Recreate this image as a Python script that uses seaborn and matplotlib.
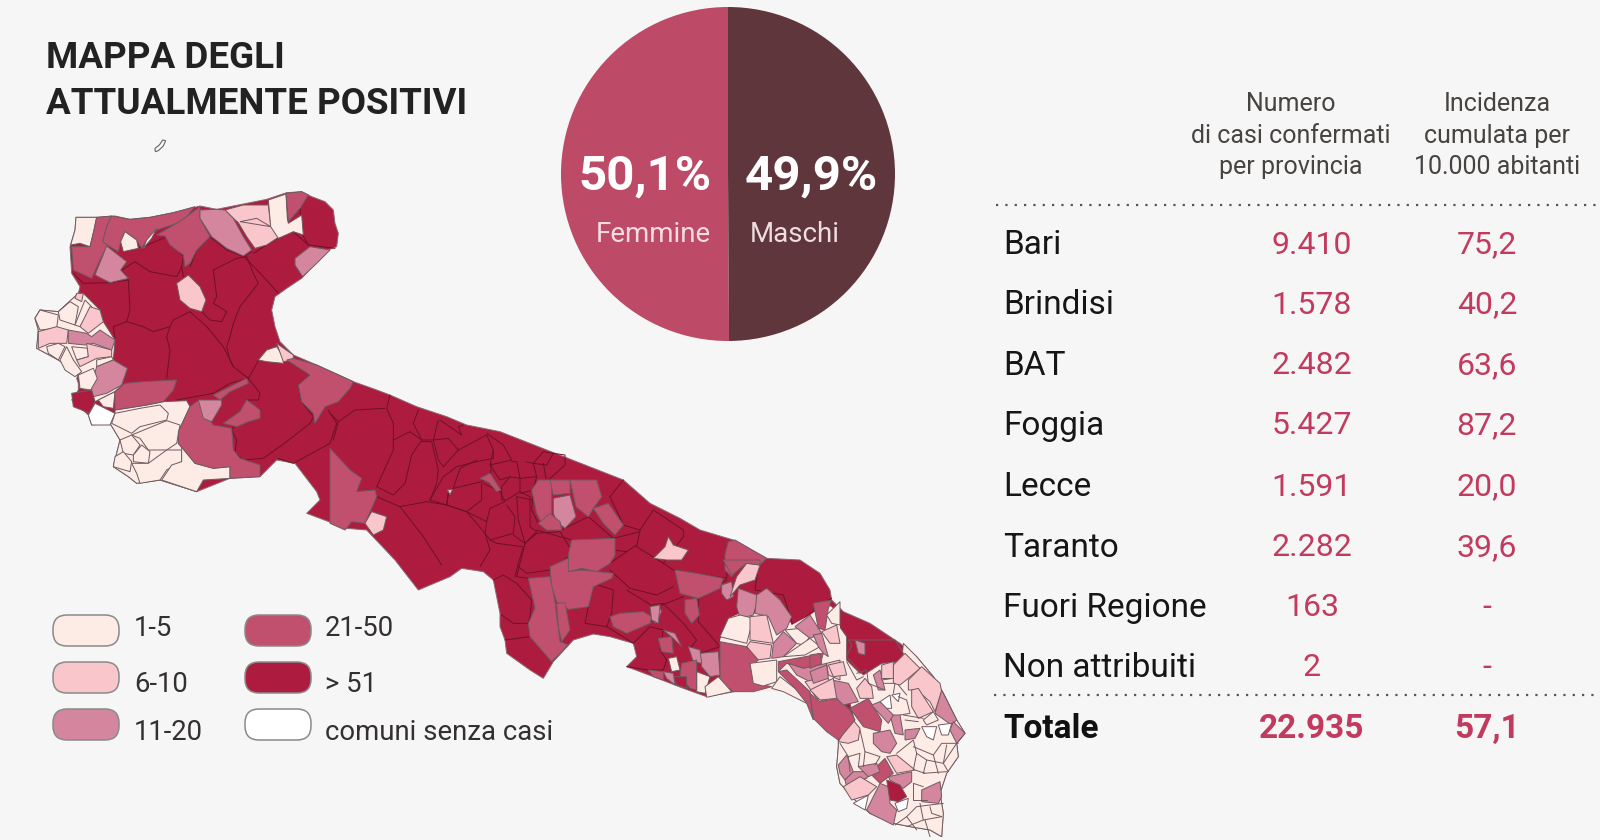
import matplotlib
matplotlib.use("Agg")
import matplotlib.pyplot as plt
import seaborn as sns
from matplotlib.patches import FancyBboxPatch, Polygon

# table data
provinces = ["Bari", "Brindisi", "BAT", "Foggia", "Lecce", "Taranto", "Fuori Regione", "Non attribuiti"]
cases = ["9.410", "1.578", "2.482", "5.427", "1.591", "2.282", "163", "2"]
incidence = ["75,2", "40,2", "63,6", "87,2", "20,0", "39,6", "-", "-"]
total_row = ["Totale", "22.935", "57,1"]
gender_labels = ["Femmine", "Maschi"]
gender_values = [50.1, 49.9]
legend_labels = ["1-5", "6-10", "11-20", "21-50", "> 51", "comuni senza casi"]
class_names = ["a", "b", "c", "d", "e", "w"]
class_colors = ["#FDEBE5", "#F8C6CB", "#D5869F", "#C1506F", "#AD1C3F", "#FFFFFF"]

# region outline (north part, then south part)
coast_north = [(228,262),(290,262),(345,258),(390,268),(450,262),(520,248),(600,228),(650,238),(730,222),(800,208),(860,188),(905,185),(935,200),(975,215),(1000,240),(1005,280),(1015,310),(1010,350),(985,360),(950,395),(905,445),(860,475),(825,500),(815,540),(825,590),(840,635),(880,675),(950,705),(1060,755),(1125,778),(1170,795),(1250,830),(1340,860),(1400,885),(1500,905)]
coast_south = [(520,0),(600,70),(690,115),(750,150),(850,180),(950,235),(1050,240),(1110,280),(1140,330),(1145,360),(1180,395),(1260,430),(1350,490),(1400,530),(1450,590),(1480,640),(1520,720),(1545,760),(1520,790),(1525,830),(1490,880),(1470,940),(1480,1000),(1475,1070),(1440,1050),(1380,1040),(1330,1030),(1260,1000),(1215,960),(1170,910),(1160,860),(1165,800),(1165,770),(1120,720),(1090,690),(1085,670),(1040,640),(980,625),(880,630),(770,650),(700,625),(610,590),(530,560),(560,530),(550,490),(480,470),(430,462),(370,480),(310,545),(280,595),(240,570),(170,520),(165,480),(150,440),(150,400),(130,300),(100,275),(35,265),(0,290),(-95,330),(-165,240)]
coast_west = [(1100,1200),(1040,1195),(920,1150),(960,1110),(950,1085),(885,1000),(830,990),(780,1040),(690,1045),(590,1085),(480,1050),(410,1060),(385,1040),(340,1010),(360,930),(330,880),(275,885),(265,855),(215,810),(235,780),(235,760),(230,745),(240,720),(175,690),(110,655),(115,600),(105,565),(120,540),(175,545),(235,490),(240,470),(215,430),(210,350),(225,300)]
salento_base = [(1165,435),(1190,470),(1190,540),(1230,580),(1300,545),(1355,545),(1360,490),(1400,530),(1450,590),(1480,640),(1520,720),(1545,760),(1520,790),(1525,830),(1490,880),(1470,940),(1480,1000),(1475,1070),(1440,1050),(1380,1040),(1330,1030),(1260,1000),(1215,960),(1170,910),(1160,860),(1165,800),(1165,770),(1210,710),(1200,670),(1150,600),(1140,520),(1130,480),(1085,460),(1130,430)]
tremiti = [(465,55),(478,45),(488,30),(497,32),(490,48),(475,62),(466,65)]

# municipalities, north part
north_shapes = [
    ("a", [(175,545),(235,490),(250,490),(300,540),(310,575),(345,630),(340,690),(382,715),(365,765),(345,785),(295,810),(285,815),(272,780),(240,775),(235,735),(175,690),(110,655),(115,600),(105,565),(120,540)]),
    ("a", [(330,880),(345,850),(345,840),(440,825),(490,815),(560,812),(570,830),(535,905),(535,940),(585,1000),(690,1010),(690,1045),(610,1050),(590,1085),(480,1050),(410,1060),(385,1040),(340,1010),(360,930)]),
    ("a", [(228,262),(290,262),(282,300),(270,350),(240,340),(212,345),(225,300)]),
    ("d", [(270,350),(282,300),(290,262),(335,258),(320,290),(308,335),(322,345),(295,400),(275,445),(220,420),(215,350)]),
    ("d", [(335,258),(390,268),(450,262),(520,248),(585,230),(560,260),(530,280),(470,300),(440,330),(425,355),(410,330),(375,305),(362,335),(355,365),(322,345),(308,335),(320,290)]),
    ("a", [(375,305),(410,330),(415,355),(370,365),(362,335)]),
    ("a", [(440,330),(470,295),(455,325),(430,355)]),
    ("d", [(470,315),(530,280),(560,260),(600,230),(600,265),(630,320),(590,360),(570,400),(555,410),(550,375),(510,345),(495,318)]),
    ("b", [(675,240),(730,225),(805,225),(812,285),(835,322),(800,345),(765,355),(740,320),(715,278),(700,265)]),
    ("c", [(600,240),(650,238),(675,240),(700,265),(730,320),(755,360),(730,378),(680,355),(635,320),(600,265)]),
    ("b", [(720,275),(770,265),(812,290)]),
    ("a", [(805,210),(858,192),(862,265),(865,280),(905,255),(910,315),(880,305),(835,325),(812,290)]),
    ("d", [(858,190),(905,185),(925,195),(900,235),(865,275)]),
    ("c", [(885,385),(930,350),(990,360),(950,400),(908,440),(885,405)]),
    ("c", [(320,348),(380,395),(362,420),(385,445),(330,458),(285,435)]),
    ("b", [(530,460),(565,435),(600,470),(618,510),(605,545),(570,535),(540,510)]),
    ("b", [(230,490),(250,490),(245,515),(225,505)]),
    ("a", [(175,545),(210,515),(235,530),(225,585),(180,570)]),
    ("a", [(105,565),(120,540),(175,555),(170,595),(120,600)]),
    ("b", [(115,605),(170,590),(205,600),(200,640),(150,640),(115,655)]),
    ("a", [(140,650),(175,640),(195,650),(175,690),(145,670)]),
    ("a", [(180,690),(200,650),(220,690),(245,725),(225,740),(195,720)]),
    ("a", [(215,650),(265,655),(265,680),(230,690)]),
    ("c", [(205,600),(260,610),(275,620),(300,600),(345,630),(335,660),(280,640),(255,645),(205,640)]),
    ("a", [(225,585),(255,510),(275,530),(260,560),(240,590)]),
    ("b", [(240,590),(270,530),(300,540),(310,575),(265,610)]),
    ("b", [(260,640),(335,660),(335,680),(290,685),(240,710),(230,690),(265,680)]),
    ("a", [(290,690),(335,680),(340,690),(290,710)]),
    ("c", [(290,710),(340,690),(382,715),(365,765),(320,790),(280,800),(272,775)]),
    ("a", [(235,735),(280,715),(292,745),(272,780),(240,775)]),
    ("e", [(215,790),(275,780),(285,815),(270,850),(220,830)]),
    ("a", [(295,810),(345,785),(340,835),(310,830)]),
    ("w", [(265,855),(285,820),(345,850),(330,885),(275,885)]),
    ("d", [(345,785),(375,760),(430,755),(530,750),(520,780),(490,815),(440,825),(345,840)]),
    ("a", [(395,915),(500,872),(540,885),(530,940),(500,960),(445,960),(420,925)]),
    ("a", [(360,930),(395,915),(420,945),(400,975),(370,970)]),
    ("a", [(400,975),(425,945),(450,965),(445,1000),(400,995)]),
    ("a", [(345,980),(370,965),(395,995),(390,1025),(340,1010)]),
    ("a", [(395,1000),(445,1000),(500,960),(545,960),(545,995),(500,1020),(480,1050),(420,1060),(410,1030)]),
    ("a", [(345,850),(420,835),(480,825),(505,850),(500,870),(420,890),(395,910),(335,880)]),
    ("a", [(545,950),(585,1000),(640,1015),(690,1010),(690,1045),(610,1050),(590,1085),(485,1050),(515,1005),(545,995)]),
    ("d", [(590,815),(610,810),(620,860),(640,885),(695,895),(700,960),(720,985),(780,1005),(780,1040),(690,1045),(690,1010),(640,1015),(585,1000),(535,940),(535,905),(570,830)]),
    ("c", [(595,810),(665,810),(665,825),(635,875),(610,865)]),
    ("d", [(670,880),(720,845),(740,810),(780,840),(780,865),(745,875),(710,890)]),
    ("d", [(640,795),(690,770),(740,745),(745,760),(690,785),(660,810)]),
    ("a", [(775,690),(800,660),(830,650),(850,680),(850,700),(800,695)]),
    ("b", [(830,640),(880,675),(880,690),(850,695)]),
    ("d", [(860,690),(880,685),(950,705),(1060,755),(1050,775),(1015,815),(975,830),(945,880),(940,850),(905,815),(895,765),(930,735)]),
]
north_borders = [
    [(220,430),(250,460),(330,458),(385,450)],
    [(385,450),(365,420),(405,395),(450,425),(530,440),(545,410)],
    [(370,365),(430,350),(500,320),(550,380),(545,410),(550,440)],
    [(570,410),(590,360),(630,320),(680,360),(730,380),(755,365)],
    [(385,450),(390,540),(380,575),(430,590),(460,605),(510,590),(520,570),(570,545)],
    [(640,420),(710,385),(740,380),(760,430),(775,460),(720,530),(700,580),(690,620)],
    [(640,420),(650,500),(640,520),(680,545),(665,575),(630,570),(605,545)],
    [(730,378),(790,440),(835,490)],
    [(760,370),(840,320),(880,305),(925,345)],
    [(900,235),(905,310),(925,345),(1005,355)],
    [(510,590),(500,620),(510,660),(500,745)],
    [(380,575),(340,590),(345,630)],
    [(570,545),(620,590),(670,650),(700,710),(745,745)],
    [(690,620),(680,650),(690,690),(700,710)],
    [(775,690),(760,720),(745,745),(780,790),(775,810),(740,810)],
    [(800,695),(860,690),(930,735),(895,765),(905,815),(940,860),(930,880),(860,935),(790,985),(730,990),(705,970),(710,930),(695,900),(720,860),(780,840)],
    [(530,810),(640,790),(690,760),(745,745)],
    [(985,840),(1010,880),(990,940),(880,1000),(835,985)],
]

# Murge / Bari belt
middle_shapes = [
    ("d", [(0,175),(60,240),(95,265),(80,305),(135,300),(140,320),(105,400),(65,395),(45,420),(0,400)]),
    ("b", [(105,400),(125,365),(170,380),(160,420),(130,435)]),
    ("d", [(450,265),(480,250),(512,300),(500,305),(478,278)]),
    ("b", [(352,300),(368,298),(360,314)]),
]
middle_borders = [
    [(0,70),(25,95),(75,60),(165,55)],
    [(180,15),(170,55),(190,100),(190,180),(140,290)],
    [(25,95),(10,150)],
    [(190,150),(240,125),(275,150),(245,195),(225,280),(190,315),(140,290)],
    [(265,60),(250,100),(275,150),(310,150),(325,90)],
    [(310,150),(355,145),(385,180),(340,230),(325,210),(310,150)],
    [(275,155),(305,155),(325,240),(320,280),(300,330)],
    [(330,90),(395,135),(385,110),(400,105)],
    [(385,180),(470,135),(490,180),(490,205),(440,215),(380,230),(340,260),(300,330),(350,345)],
    [(470,130),(520,165),(545,210),(480,225),(490,180)],
    [(440,210),(390,235),(370,295),(455,275),(480,260),(485,220)],
    [(350,345),(355,310),(370,295)],
    [(355,310),(350,345),(410,365),(455,330),(455,280)],
    [(410,365),(470,395),(480,355),(525,335),(510,305),(460,280)],
    [(480,225),(510,270),(540,260),(570,265),(560,215),(545,215)],
    [(540,260),(515,290),(515,330),(530,330),(570,305),(570,265)],
    [(470,395),(465,430),(480,450),(550,430),(555,380),(530,345)],
    [(570,305),(600,320),(600,410),(620,425),(585,460),(550,435)],
    [(585,215),(610,220),(620,260),(570,265)],
    [(620,260),(610,300),(570,310)],
    [(610,220),(640,185),(670,190),(650,225),(610,220)],
    [(670,190),(705,195),(705,225),(650,275),(640,220)],
    [(210,350),(290,335),(350,345),(410,365),(465,430),(480,480),(450,530)],
    [(140,320),(210,350),(280,440),(335,525)],
    [(480,450),(500,460),(580,470),(565,520),(555,560)],
    [(585,460),(620,430),(690,425),(730,490),(660,540),(590,550),(565,530)],
]

# Bari / Taranto inland
south_shapes = [
    ("d", [(245,30),(265,0),(305,0),(305,60),(305,100),(275,130),(260,100)]),
    ("d", [(300,0),(360,0),(360,40),(310,45)]),
    ("c", [(310,55),(360,45),(378,110),(345,145),(320,125),(310,100)]),
    ("d", [(360,0),(440,0),(455,50),(430,85),(415,110),(378,80)]),
    ("d", [(265,130),(300,100),(330,125),(335,150),(290,150)]),
    ("d", [(430,85),(475,70),(520,135),(495,165),(460,130)]),
    ("d", [(365,180),(495,175),(495,225),(480,250),(440,275),(395,265),(355,275),(355,225)]),
    ("d", [(300,260),(355,235),(355,275),(395,270),(490,280),(485,295),(430,320),(415,380),(355,388),(320,365),(305,320)]),
    ("d", [(235,295),(300,290),(315,365),(320,410),(330,485),(355,495),(305,545),(240,470),(235,430),(255,385)]),
    ("d", [(320,370),(345,368),(360,450),(335,485),(325,440)]),
    ("b", [(610,235),(645,200),(655,170),(670,195),(715,210),(695,240),(650,240)]),
    ("d", [(835,185),(855,180),(950,235),(925,260),(880,250),(845,290),(825,270),(825,225)]),
    ("d", [(480,410),(510,400),(580,395),(605,410),(600,430),(530,460),(490,440)]),
    ("c", [(605,390),(625,375),(635,395),(615,430)]),
]
south_borders = [
    [(130,300),(160,285),(200,310),(245,360),(240,410),(235,430),(190,430),(155,405)],
    [(165,480),(240,470)],
    [(480,270),(540,325),(620,345),(670,320)],
    [(430,310),(490,330),(485,400),(470,440),(405,430),(415,380)],
    [(530,330),(595,370),(610,385),(700,350)],
    [(470,440),(550,490),(600,440),(640,450),(630,510),(650,540),(640,570),(595,570),(530,560)],
    [(605,375),(640,370),(700,430),(740,480),(720,505)],
    [(745,425),(745,355),(830,300)],
    [(745,425),(810,500),(780,510),(750,520)],
    [(640,250),(670,270),(830,295),(835,190)],
    [(570,150),(610,90),(700,150),(700,170),(640,250),(560,200),(570,150)],
    [(480,50),(520,0)],
    [(480,50),(520,135),(570,150)],
    [(925,260),(915,330),(1000,345),(1030,440),(1120,370),(1145,355)],
    [(335,150),(415,110),(490,175),(570,155)],
    [(260,150),(365,180)],
    [(225,190),(200,290),(235,295)],
    [(490,175),(490,210),(530,215),(560,195)],
    [(480,250),(530,215)],
    [(250,30),(245,90),(265,130)],
    [(200,50),(245,60)],
    [(200,50),(205,120),(225,190)],
]

# Brindisi / Taranto east
taranto_base = [(240,240),(265,175),(300,160),(345,160),(360,100),(380,85),(420,120),(455,195),(510,165),(560,130),(600,160),(600,480),(520,480),(515,420),(430,395),(340,395),(280,395),(240,365)]
taranto_shapes = [
    ("d", [(105,30),(170,40),(250,55),(240,85),(175,115),(120,100)]),
    ("d", [(135,120),(170,115),(178,165),(155,190),(135,160)]),
    ("c", [(245,75),(275,65),(280,110),(260,120),(245,100)]),
    ("b", [(270,110),(290,50),(320,10),(360,15),(345,60),(300,75)]),
    ("d", [(250,0),(360,0),(360,15),(320,10),(275,45)]),
    ("c", [(295,85),(350,105),(350,130),(340,165),(300,175),(290,140)]),
    ("c", [(350,105),(380,85),(420,120),(455,170),(440,205),(410,225),(385,170),(345,160)]),
    ("a", [(240,230),(265,175),(300,165),(340,175),(320,250)]),
    ("b", [(330,170),(380,165),(400,250),(330,240)]),
    ("b", [(320,260),(330,245),(395,255),(390,295),(350,300)]),
    ("c", [(400,250),(430,215),(470,250),(430,290),(395,295)]),
    ("a", [(435,210),(480,205),(510,230),(490,255),(470,250)]),
    ("c", [(465,200),(510,165),(545,220),(510,235)]),
    ("a", [(430,290),(510,235),(540,260),(495,285)]),
    ("d", [(240,245),(320,260),(355,300),(330,320),(345,370),(395,380),(340,395),(280,395),(240,365)]),
    ("a", [(330,310),(410,300),(410,365),(370,378),(340,370)]),
    ("c", [(180,280),(235,275),(240,345),(210,350),(185,320)]),
    ("c", [(145,260),(180,270),(185,310),(160,305)]),
    ("a", [(170,335),(210,350),(195,400),(170,395)]),
    ("a", [(195,380),(235,350),(275,395),(200,412)]),
    ("d", [(125,310),(170,300),(170,390),(150,385),(120,345)]),
    ("e", [(100,350),(140,350),(140,385),(110,375)]),
    ("c", [(70,335),(100,340),(105,375),(80,355)]),
    ("d", [(25,330),(70,335),(70,360),(40,350)]),
    ("d", [(55,235),(95,230),(100,280),(65,275)]),
    ("c", [(70,210),(105,220),(125,260),(100,235)]),
    ("a", [(85,295),(110,290),(120,330),(95,335)]),
    ("c", [(30,140),(60,135),(55,190),(35,180)]),
    ("a", [(395,385),(420,350),(465,385),(515,420),(510,435),(430,395)]),
    ("d", [(415,305),(550,280),(540,315),(490,325),(440,310),(415,335)]),
    ("c", [(445,310),(490,325),(560,310),(560,345),(510,365),(470,345)]),
    ("b", [(495,365),(560,350),(585,385),(555,425),(530,415)]),
    ("d", [(415,335),(440,330),(510,395),(520,480),(500,430),(465,385)]),
    ("d", [(520,130),(575,120),(565,145),(555,210),(535,205)]),
    ("a", [(560,165),(600,125),(600,195),(575,190)]),
    ("b", [(560,310),(600,300),(600,360),(565,345)]),
    ("b", [(545,215),(590,195),(600,250),(570,250)]),
    ("c", [(520,225),(545,220),(565,290),(550,280),(535,260)]),
]

# Salento
salento_shapes = [
    ("e", [(115,0),(255,0),(280,40),(275,65),(215,70),(160,105),(110,50),(125,15)]),
    ("c", [(135,0),(165,10),(165,45),(145,40)]),
    ("b", [(250,75),(285,40),(330,85),(295,115),(270,135),(250,130)]),
    ("b", [(295,120),(335,80),(390,130),(395,155),(375,215),(360,185),(320,150),(295,150)]),
    ("b", [(305,150),(325,145),(370,215),(325,235),(305,200)]),
    ("c", [(375,220),(395,150),(440,240),(425,255)]),
    ("c", [(430,245),(465,280),(440,310),(420,270)]),
    ("a", [(340,240),(370,215),(385,240),(350,255)]),
    ("w", [(335,260),(380,260),(370,300),(350,290)]),
    ("w", [(385,255),(425,250),(415,285),(395,285)]),
    ("w", [(210,185),(240,165),(245,205),(225,205)]),
    ("w", [(245,165),(270,160),(265,185)]),
    ("c", [(240,225),(270,225),(280,285),(255,280)]),
    ("c", [(285,270),(330,265),(315,295),(285,300)]),
    ("c", [(190,280),(240,270),(260,310),(240,340),(215,335),(190,310)]),
    ("b", [(230,350),(260,345),(315,390),(260,400)]),
    ("d", [(180,400),(225,355),(250,400),(210,430)]),
    ("c", [(235,410),(305,395),(305,425),(280,445),(240,420)]),
    ("c", [(170,510),(210,430),(235,440),(240,490),(260,510),(250,555),(180,520)]),
    ("e", [(230,420),(270,435),(290,470),(265,485),(240,480)]),
    ("w", [(130,490),(175,465),(165,510)]),
    ("w", [(255,490),(295,475),(290,505),(265,515)]),
    ("c", [(335,450),(390,425),(395,470),(385,490),(335,485)]),
    ("c", [(85,375),(110,345),(130,395),(105,420),(90,400)]),
    ("c", [(105,420),(130,395),(180,395),(170,415),(140,420),(110,440)]),
    ("c", [(145,380),(200,370),(210,395),(175,410)]),
    ("b", [(100,440),(150,410),(200,440),(175,465),(125,480)]),
    ("b", [(85,305),(125,235),(150,265),(145,300),(115,310)]),
    ("d", [(120,205),(175,175),(215,240),(210,275),(160,260)]),
    ("d", [(0,160),(30,185),(80,175),(120,210),(135,240),(85,300),(50,275),(10,235)]),
    ("c", [(65,120),(115,130),(145,185),(100,195),(70,165)]),
    ("c", [(185,195),(210,185),(250,225),(235,250)]),
    ("b", [(0,150),(70,115),(80,175),(30,180)]),
    ("c", [(0,95),(50,75),(55,115),(10,130)]),
    ("d", [(0,45),(30,40),(35,70),(0,85)]),
    ("b", [(140,145),(165,115),(185,140),(190,175),(150,175)]),
    ("b", [(55,75),(100,65),(110,105),(70,110)]),
    ("c", [(190,105),(210,90),(225,150),(205,150)]),
    ("b", [(215,75),(250,65),(250,115),(215,120)]),
]
salento_borders = [
    [(265,170),(290,180),(300,220),(270,225)], [(280,225),(340,235)], [(285,240),(325,245)],
    [(310,320),(370,345),(395,310),(445,310)], [(260,340),(310,300),(320,340),(310,390)],
    [(320,340),(350,360),(400,370),(440,310)], [(350,360),(340,400),(410,395)],
    [(315,390),(345,400)], [(370,345),(385,400)], [(410,315),(400,370),(415,395)],
    [(150,270),(165,335),(160,380)], [(90,310),(115,350),(150,340),(145,380)],
    [(115,350),(120,395)], [(165,335),(210,350),(195,375)],
    [(400,490),(320,500),(290,530),(255,555)], [(330,490),(340,540),(290,560)],
    [(340,540),(395,530)], [(350,480),(310,480),(310,430)], [(310,430),(340,440)],
    [(395,530),(365,520),(360,500)], [(345,540),(360,590)], [(290,530),(320,570)],
    [(220,130),(255,130),(250,160)], [(265,135),(290,165)], [(170,90),(175,130),(225,150)],
    [(110,65),(140,120),(160,110)], [(140,100),(170,90)], [(240,115),(215,115)],
]


def to_px(pts, ox, oy):
    # crops were read at 3x, put them back on the canvas
    return [(ox + x / 3, oy + y / 3) for x, y in pts]


def draw_shapes(ax, shapes, ox, oy):
    for cls, pts in shapes:
        ax.add_patch(Polygon(to_px(pts, ox, oy), closed=True, fc=palette[cls], ec="#6f5a60", lw=0.7, zorder=3))


def draw_borders(ax, lines, ox, oy, color, zorder):
    for pts in lines:
        xs, ys = zip(*to_px(pts, ox, oy))
        ax.plot(xs, ys, color=color, lw=0.7, zorder=zorder)


sns.set_theme(style="white")
plt.rcParams["font.family"] = ["Roboto", "DejaVu Sans"]
palette = dict(zip(class_names, sns.color_palette(class_colors)))
BG = "#F6F6F6"
TEXT = "#33302F"
RED = "#C23A5E"

fig = plt.figure(figsize=(16, 8.4), dpi=100, facecolor=BG)
ax = fig.add_axes([0, 0, 1, 1])
ax.set_xlim(0, 1600)
ax.set_ylim(840, 0)
ax.set_facecolor(BG)
ax.axis("off")

# map
outline = to_px(coast_north, 0, 130) + to_px(coast_south, 450, 480) + to_px(coast_west, 0, 130)
ax.add_patch(Polygon(outline, closed=True, fc=palette["e"], ec="#8b6a72", lw=0.7, zorder=1))
ax.add_patch(Polygon(to_px(tremiti, 0, 130), closed=True, fc=BG, ec="#666666", lw=0.8, zorder=1))
draw_borders(ax, north_borders, 0, 130, "#6e1029", 2)
draw_borders(ax, middle_borders, 330, 390, "#6e1029", 2)
draw_borders(ax, south_borders, 450, 480, "#6e1029", 2)
ax.add_patch(Polygon(to_px(salento_base, 450, 480), closed=True, fc=palette["a"], ec="#6f5a60", lw=0.7, zorder=3))
ax.add_patch(Polygon(to_px(taranto_base, 640, 560), closed=True, fc=palette["a"], ec="none", zorder=3))
draw_shapes(ax, north_shapes, 0, 130)
draw_shapes(ax, middle_shapes, 330, 390)
draw_shapes(ax, south_shapes, 450, 480)
draw_shapes(ax, taranto_shapes, 640, 560)
draw_shapes(ax, salento_shapes, 810, 640)
draw_borders(ax, salento_borders, 810, 640, "#6f5a60", 4)

# title
ax.text(46, 58, "MAPPA DEGLI", fontsize=26.5, fontweight="bold", color="#222222", va="center")
ax.text(46, 104, "ATTUALMENTE POSITIVI", fontsize=26.5, fontweight="bold", color="#222222", va="center")

# legend
swatch_x = [53, 53, 53, 245, 245, 245]
swatch_y = [615, 662, 709, 615, 662, 709]
label_x = [134, 134, 134, 325, 325, 325]
label_y = [629, 684, 732, 629, 684, 732]
for i, lab in enumerate(legend_labels):
    ax.add_patch(FancyBboxPatch((swatch_x[i] + 14, swatch_y[i] + 14), 38, 3,
                                boxstyle="round,pad=14", fc=class_colors[i], ec="#8a8a8a", lw=1.1))
    ax.text(label_x[i], label_y[i], lab, fontsize=19.8, color=TEXT, va="center")

# table
for x, lines in [(1291, ["Numero", "di casi confermati", "per provincia"]),
                 (1497, ["Incidenza", "cumulata per", "10.000 abitanti"])]:
    for y, line in zip([104, 136, 167], lines):
        ax.text(x, y, line, fontsize=18, color="#474341", ha="center", va="center")
ax.plot([996, 1600], [205, 205], color="#555555", lw=1.6, ls=(0, (1, 3.2)))
ax.plot([994, 1600], [695, 695], color="#555555", lw=1.6, ls=(0, (1, 3.2)))
row_y = [245, 305, 366, 426, 487, 548, 608, 668]
for y, name, c, inc in zip(row_y, provinces, cases, incidence):
    ax.text(1003, y, name, fontsize=24, color="#161616", va="center")
    ax.text(1312, y, c, fontsize=23, color=RED, ha="center", va="center")
    ax.text(1487, y, inc, fontsize=23, color=RED, ha="center", va="center")
ax.text(1003, 729, total_row[0], fontsize=24, fontweight="bold", color="#111111", va="center")
ax.text(1312, 729, total_row[1], fontsize=24, fontweight="bold", color=RED, ha="center", va="center")
ax.text(1487, 729, total_row[2], fontsize=24, fontweight="bold", color=RED, ha="center", va="center")

# pie
pie_ax = fig.add_axes([(728 - 170) / 1600, 1 - (174 + 170) / 840, 340 / 1600, 340 / 840])
pie_ax.pie(gender_values, colors=["#BD4A66", "#5E363C"], startangle=90, radius=167 / 170,
           wedgeprops={"linewidth": 0})
pie_ax.set_xlim(-1, 1)
pie_ax.set_ylim(-1, 1)
ax.set_zorder(0)
pie_ax.set_zorder(1)
overlay = fig.add_axes([0, 0, 1, 1], zorder=2)
overlay.set_xlim(0, 1600)
overlay.set_ylim(840, 0)
overlay.axis("off")
overlay.text(645, 177, "50,1%", fontsize=35.5, fontweight="bold", color="white", ha="center", va="center")
overlay.text(811, 177, "49,9%", fontsize=35.5, fontweight="bold", color="white", ha="center", va="center")
overlay.text(653, 234, gender_labels[0], fontsize=20, color="#F7DDE2", ha="center", va="center")
overlay.text(795, 234, gender_labels[1], fontsize=20, color="#EFDDE0", ha="center", va="center")

fig.savefig("out.png", dpi=100, facecolor=BG)
